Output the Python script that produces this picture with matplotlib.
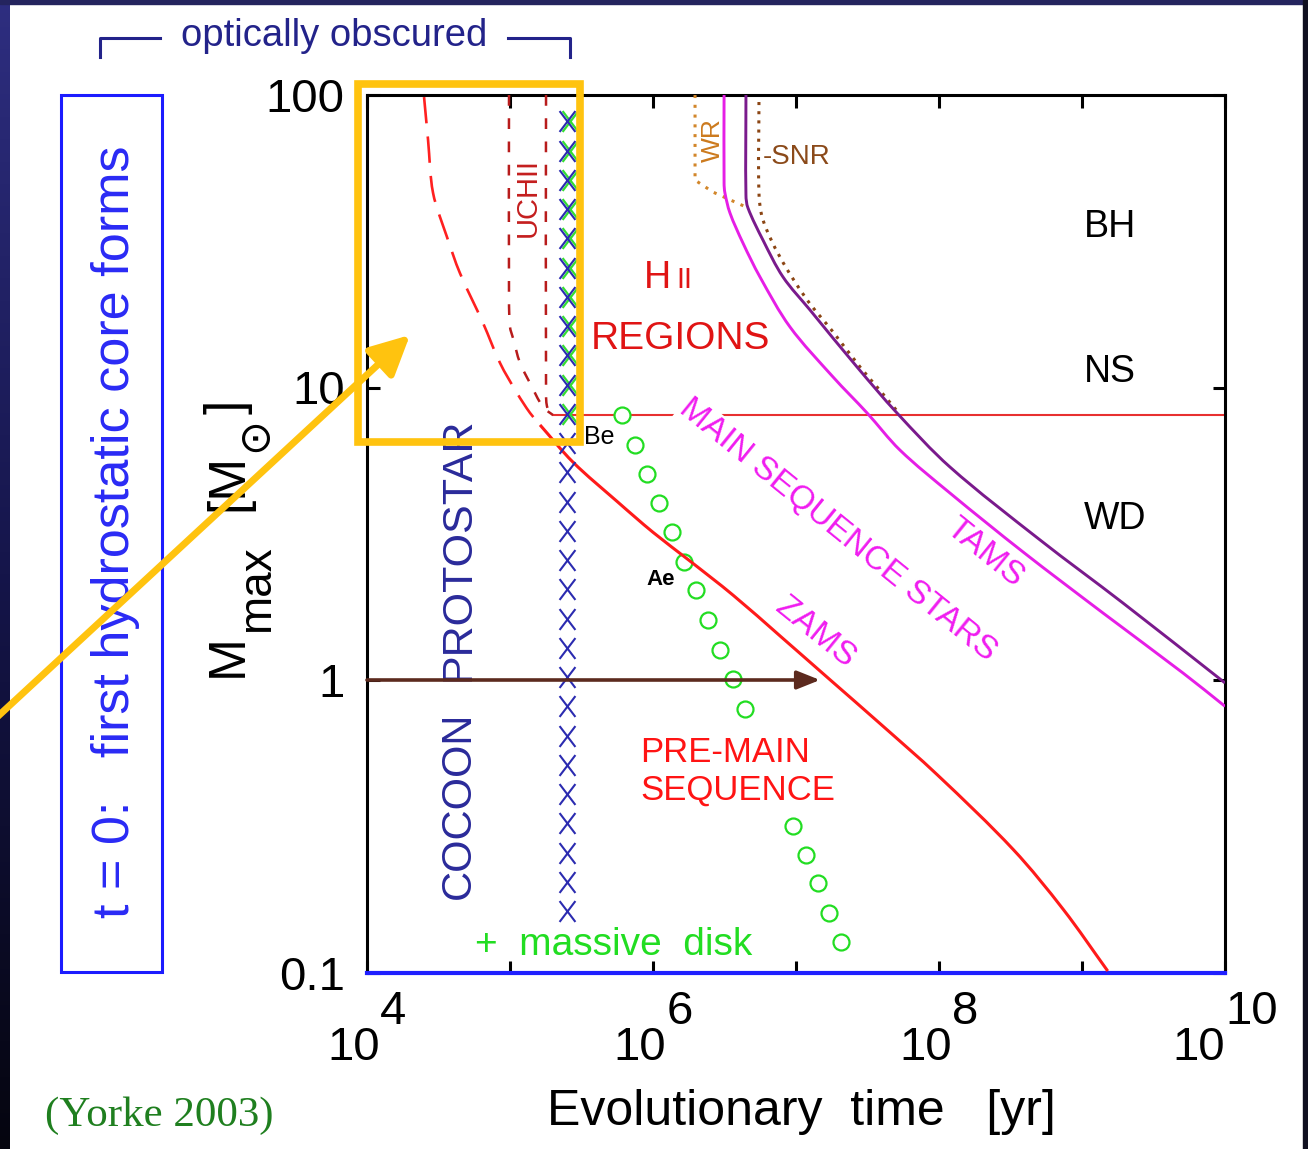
import matplotlib
matplotlib.use('Agg')
import matplotlib.pyplot as plt
import numpy as np
from matplotlib.path import Path
from matplotlib.patches import Rectangle, FancyArrowPatch, PathPatch
from matplotlib.transforms import offset_copy

plt.rcParams['font.family'] = ['Liberation Sans', 'DejaVu Sans']
plt.rcParams['mathtext.fontset'] = 'custom'
plt.rcParams['mathtext.rm'] = 'Liberation Sans'

W, H = 1308, 1149

# ---- data, log10(t / yr) and log10(M / Msun) ----
accr_logt = [4.399, 4.427, 4.462, 4.559, 4.650, 4.811, 4.930, 5.049, 5.140, 5.210]
accr_logm = [1.993, 1.846, 1.665, 1.515, 1.391, 1.221, 1.084, 0.981, 0.913, 0.872]

zams_logt = [5.21, 5.44, 5.75, 6.0, 6.25, 6.56, 6.89, 7.24, 7.59, 7.99, 8.52, 8.87, 9.18]
zams_logm = [0.872, 0.745, 0.61, 0.505, 0.41, 0.29, 0.15, 0.0, -0.15, -0.325, -0.58, -0.785, -0.995]

uch1_logt = [4.993, 4.993, 5.0, 5.021, 5.07, 5.14, 5.231, 5.30]
uch1_logm = [2.0, 1.30, 1.207, 1.169, 1.084, 1.015, 0.933, 0.906]
uch2_logt = [5.252, 5.252, 5.262, 5.30]
uch2_logm = [2.0, 0.98, 0.93, 0.906]

be_logt = [5.30, 10.0]
be_logm = [0.906, 0.906]

tams_logt = [6.497, 6.497, 6.503, 6.538, 6.629, 6.748, 6.958, 7.259, 7.497, 7.727, 8.077, 8.587, 9.147, 9.706, 10.0]
tams_logm = [2.0, 1.699, 1.665, 1.597, 1.494, 1.378, 1.207, 1.036, 0.913, 0.786, 0.639, 0.438, 0.229, 0.024, -0.09]

end_logt = [6.650, 6.650, 6.664, 6.769, 6.909, 7.098, 7.427, 7.706, 8.077, 8.706, 9.287, 10.0]
end_logm = [2.0, 1.658, 1.614, 1.504, 1.378, 1.265, 1.070, 0.913, 0.728, 0.479, 0.263, -0.01]

snr_logt = [6.741, 6.741, 6.769, 6.888, 7.077, 7.259, 7.448, 7.587, 7.706]
snr_logm = [1.976, 1.665, 1.573, 1.446, 1.30, 1.19, 1.07, 0.99, 0.92]

wr_logt = [6.294, 6.294, 6.42, 6.664]
wr_logm = [2.0, 1.709, 1.668, 1.614]

disk_logt = [5.783, 5.874, 5.958, 6.042, 6.133, 6.217, 6.301, 6.385, 6.469, 6.559, 6.643,
             6.979, 7.070, 7.154, 7.231, 7.315]
disk_logm = [0.906, 0.803, 0.704, 0.605, 0.506, 0.403, 0.308, 0.205, 0.103, 0.003, -0.099,
             -0.499, -0.598, -0.694, -0.797, -0.896]

cocoon_logt = 5.399
cocoon_logm = [1.91, 1.81, 1.71, 1.61, 1.51, 1.41, 1.31, 1.21, 1.11, 1.01, 0.91, 0.81, 0.71, 0.61,
               0.51, 0.41, 0.31, 0.21, 0.11, 0.01, -0.09, -0.19, -0.29, -0.39, -0.49, -0.59, -0.69, -0.79]
gx_logt = 5.42
gx_logm = [1.91, 1.81, 1.71, 1.61, 1.51, 1.41, 1.31, 1.21, 1.11, 1.01, 0.91]

arrow_logt = [4.0, 7.168]
arrow_logm = [0.0, 0.0]

xtick_exp = [4, 6, 8, 10]
ytick_vals = [0.1, 1, 10, 100]
ytick_labels = ['0.1', '1', '10', '100']


def p(lt, lm):
    return 10 ** np.asarray(lt, dtype=float), 10 ** np.asarray(lm, dtype=float)


def curve(lt, lm, **kw):
    # smooth bezier drawn through the read points (display-like units for the tangents)
    P = np.column_stack([np.asarray(lt, float) * 143.0, np.asarray(lm, float) * 292.5])
    n = len(P)
    tang = []
    for i in range(n):
        d = P[min(i + 1, n - 1)] - P[max(i - 1, 0)]
        tang.append(d / np.hypot(*d))
    verts = [P[0]]
    codes = [Path.MOVETO]
    for i in range(n - 1):
        L = np.hypot(*(P[i + 1] - P[i])) / 3.0
        verts += [P[i] + tang[i] * L, P[i + 1] - tang[i + 1] * L, P[i + 1]]
        codes += [Path.CURVE4] * 3
    V = np.array(verts)
    V = np.column_stack([10 ** (V[:, 0] / 143.0), 10 ** (V[:, 1] / 292.5)])
    ax.add_patch(PathPatch(Path(V, codes), fill=False, **kw))


fig = plt.figure(figsize=(W / 100, H / 100), dpi=100)

# slide background strips
bg = fig.add_axes([0, 0, 1, 1], zorder=-10)
bg.set_xlim(0, W)
bg.set_ylim(H, 0)
bg.axis('off')
grad = np.linspace(0, 1, 256).reshape(-1, 1)
cmap = matplotlib.colors.LinearSegmentedColormap.from_list('slide', ['#2e2e80', '#15154a', '#05050f'])
bg.imshow(grad, cmap=cmap, extent=[0, 10, H, 0], aspect='auto')
bg.add_patch(Rectangle((0, 0), W, 4, color='#24245e'))
bg.add_patch(Rectangle((W - 5, 0), 5, H, color='#101020'))

ax = fig.add_axes([367 / W, 1 - 972.5 / H, 858 / W, 877.5 / H])
ax.set_xscale('log')
ax.set_yscale('log')
ax.set_xlim(1e4, 1e10)
ax.set_ylim(0.1, 100)

blue_axis = '#1f1fff'
for s in ['left', 'top', 'right']:
    ax.spines[s].set_linewidth(2.2)
    ax.spines[s].set_color('black')
ax.spines['bottom'].set_linewidth(3)
ax.spines['bottom'].set_color(blue_axis)

ax.set_xticks([10.0 ** k for k in range(4, 11)])
ax.set_yticks(ytick_vals)
ax.set_yticklabels(ytick_labels)
ax.minorticks_off()
ax.tick_params(axis='both', which='major', direction='in', length=9, width=2.2,
               top=True, right=True, labelbottom=False)
ax.tick_params(axis='y', labelsize=34, pad=16)
for t in ax.xaxis.get_major_ticks():
    t.tick1line.set_color(blue_axis)

# tick labels 10^n with full size exponents
for e in xtick_exp:
    sh = (2 - len(str(e))) / 2 * 0.556 * 34
    tr1 = offset_copy(ax.get_xaxis_transform(), fig=fig, x=sh, y=-63, units='points')
    tr2 = offset_copy(ax.get_xaxis_transform(), fig=fig, x=sh, y=-37, units='points')
    ax.text(10.0 ** e, 0, '10', transform=tr1, ha='right', va='baseline', fontsize=34, clip_on=False)
    ax.text(10.0 ** e, 0, str(e), transform=tr2, ha='left', va='baseline', fontsize=34, clip_on=False)

# curves
ax.plot(*p(be_logt, be_logm), color='#e83030', lw=1.5, zorder=2)
curve(accr_logt, accr_logm, ec='#ff2020', lw=1.9, ls=(0, (10, 5)), zorder=3)
curve(uch1_logt, uch1_logm, ec='#b81c1c', lw=1.8, ls=(0, (4.3, 5)), zorder=3)
curve(uch2_logt, uch2_logm, ec='#b81c1c', lw=1.8, ls=(0, (4.3, 5)), zorder=3)
ax.plot(*p(wr_logt, wr_logm), color='#d2862a', lw=2.2, dashes=(1, 2.2), zorder=3)
curve(snr_logt, snr_logm, ec='#8b4513', lw=2.2, ls=(0, (1, 2.0)), zorder=3)
curve(tams_logt, tams_logm, ec='#e61ee6', lw=2.1, zorder=4)
curve(end_logt, end_logm, ec='#7a1a8c', lw=2.1, zorder=4)
ax.plot(*p(disk_logt, disk_logm), ls='none', marker='o', ms=11.5, mfc='white',
        mec='#22dd22', mew=1.6, zorder=3.5)
curve(zams_logt, zams_logm, ec='#ff1a1a', lw=2.2, zorder=4)

xmark = Path([(-0.38, -0.5), (0.38, 0.5), (-0.38, 0.5), (0.38, -0.5)],
             [Path.MOVETO, Path.LINETO, Path.MOVETO, Path.LINETO])
ax.plot(*p([gx_logt] * len(gx_logm), gx_logm), ls='none', marker=xmark, ms=15, mfc='none',
        mec='#33dd33', mew=1.6, zorder=4.5)
ax.plot(*p([cocoon_logt] * len(cocoon_logm), cocoon_logm), ls='none', marker=xmark, ms=15,
        mfc='none', mec='#2b2bb0', mew=1.5, zorder=5)

at, am = p(arrow_logt, arrow_logm)
ax.annotate('', xy=(at[1], am[1]), xytext=(at[0], am[0]),
            arrowprops=dict(arrowstyle='-|>,head_length=0.7,head_width=0.28', mutation_scale=20,
                            color='#5c2a1e', lw=2.6, shrinkA=0, shrinkB=0), zorder=6)


# labels inside the plot
def lab(s, lt, lm, **kw):
    ax.text(10 ** lt, 10 ** lm, s, **kw)


lab('UCHII', 5.126, 1.648, rotation=90, ha='center', va='center', fontsize=21, color='#c41e1e')
lab('H', 6.126, 1.340, ha='right', va='baseline', fontsize=27, color='#e01414')
lab('II', 6.161, 1.340, ha='left', va='baseline', fontsize=21, color='#e01414')
lab('REGIONS', 6.189, 1.166, ha='center', va='center', fontsize=28, color='#e01414')
lab('Be', 5.622, 0.831, ha='center', va='center', fontsize=18, color='black')
lab('Ae', 6.056, 0.342, ha='center', va='center', fontsize=16, color='black', fontweight='bold')
lab('MAIN SEQUENCE STARS', 7.294, 0.513, rotation=-39, ha='center', va='center', fontsize=24,
    color='#f01cf0', zorder=2.5, bbox=dict(facecolor='white', edgecolor='none', pad=1))
lab('ZAMS', 7.133, 0.161, rotation=-39, ha='center', va='center', fontsize=24, color='#f01cf0')
lab('TAMS', 8.322, 0.434, rotation=-39, ha='center', va='center', fontsize=24, color='#f01cf0')
lab('PRE-MAIN', 5.909, -0.280, ha='left', va='baseline', fontsize=25, color='#ff1414')
lab('SEQUENCE', 5.909, -0.410, ha='left', va='baseline', fontsize=25, color='#ff1414')
lab('PROTOSTAR', 4.643, 0.448, rotation=90, ha='center', va='center', fontsize=31, color='#2a2a9a')
lab('COCOON', 4.643, -0.427, rotation=90, ha='center', va='center', fontsize=30, color='#2a2a9a')
lab('+  massive  disk', 4.755, -0.940, ha='left', va='baseline', fontsize=28, color='#22dd22')
lab('BH', 9.196, 1.549, ha='center', va='center', fontsize=27, color='black')
lab('NS', 9.196, 1.053, ha='center', va='center', fontsize=27, color='black')
lab('WD', 9.231, 0.550, ha='center', va='center', fontsize=27, color='black')
lab('WR', 6.420, 1.846, rotation=90, ha='center', va='center', fontsize=19, color='#cc7a1e')
lab('-SNR', 6.769, 1.788, ha='left', va='center', fontsize=20, color='#8b4a1a')

# overlay in pixel coordinates for slide annotations
ov = fig.add_axes([0, 0, 1, 1], zorder=5)
ov.set_xlim(0, W)
ov.set_ylim(H, 0)
ov.axis('off')
ov.patch.set_alpha(0)

navy = '#23238a'
ov.plot([100, 100, 160], [57, 38, 38], color=navy, lw=2.2)
ov.plot([508, 570, 570], [38, 38, 57], color=navy, lw=2.2)
ov.text(334, 46, 'optically obscured', ha='center', va='baseline', fontsize=27.5, color=navy)

ov.add_patch(Rectangle((61, 95), 101, 877, fill=False, ec='#1c1cff', lw=2.2))
ov.text(116, 532, 't = 0:   first hydrostatic core forms', rotation=90, ha='center',
        va='center', fontsize=37.5, color='#2a2af5')

# y label built from pieces so the subscripts stay large
rend = fig.canvas.get_renderer()
ylab_parts = [('M', 37, 242, 0, 'Liberation Sans'),
              ('max', 33, 269, 2, 'Liberation Sans'),
              ('[M', 37, 242, 34, 'Liberation Sans'),
              ('\u2299', 30, 266, 2, 'DejaVu Sans'),
              (']', 37, 242, 3, 'Liberation Sans')]
ypos = 677
for s, fs, xb, gap, fam in ylab_parts:
    ypos -= gap
    tt = ov.text(xb, ypos, s, rotation=90, rotation_mode='anchor', ha='left', va='baseline',
                 fontsize=fs, color='black', family=fam)
    ypos -= tt.get_window_extent(rend).height

ov.text(801, 1125, 'Evolutionary  time   [yr]', ha='center', va='baseline', fontsize=36,
        color='black')
ov.text(45, 1126, '(Yorke 2003)', ha='left', va='baseline', fontsize=31, color='#1f7f1f',
        family='Liberation Serif')

gold = '#ffc30f'
ov.add_patch(Rectangle((358, 84), 222, 358, fill=False, ec=gold, lw=5.5, zorder=10))
ov.add_patch(FancyArrowPatch((-5, 719), (410, 335), arrowstyle='-|>,head_length=1.2,head_width=0.6',
                             mutation_scale=20, color=gold, lw=5, shrinkA=0, shrinkB=0, zorder=10))

fig.savefig('out.png', dpi=100)
